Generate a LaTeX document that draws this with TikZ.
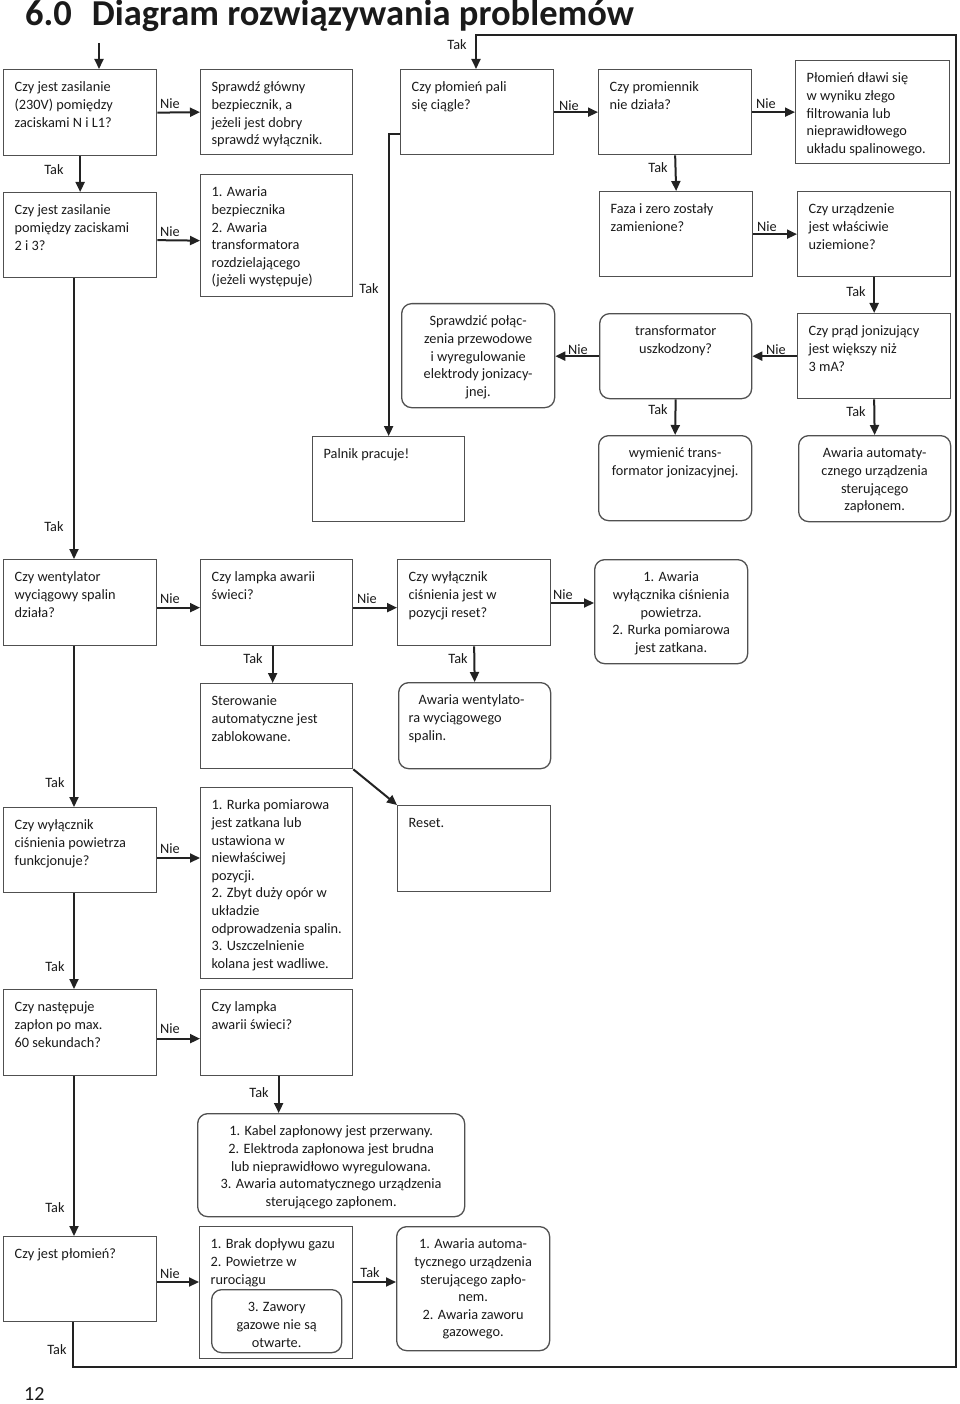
\documentclass[tikz,border=0pt]{standalone}
\usepackage{fontspec}
\setmainfont{Carlito}
\usetikzlibrary{arrows.meta,calc}
\definecolor{lc}{HTML}{222222}
\definecolor{bc}{HTML}{505050}
\definecolor{tc}{HTML}{1A1A1A}
\newcommand{\bodyf}{\fontsize{14.3}{17.6}\selectfont}
\newcommand{\titlef}{\fontsize{36.5}{40}\selectfont\bfseries}
\newcommand{\Lt}[3]{\parbox[t][#2pt][t]{#1pt}{\begin{tabular}[t]{@{}l@{}}#3\end{tabular}}}
\newcommand{\Ct}[3]{\parbox[t][#2pt][t]{#1pt}{\centering\begin{tabular}[t]{@{}c@{}}#3\end{tabular}}}
\tikzset{
  bx/.style={draw=bc, line width=1.3pt, anchor=north west, inner xsep=11pt, inner ysep=10pt, font=\bodyf, text=tc},
  rb/.style={bx, rounded corners=10pt},
  arr/.style={draw=lc, line width=2pt, line join=miter, -{Triangle[length=10pt,width=9pt]}},
  lbl/.style={font=\bodyf, text=tc, inner sep=0pt},
}
\begin{document}
\begin{tikzpicture}[x=1pt,y=-1pt]
\useasboundingbox (0,0) rectangle (960,1404);
% title and page number
\node[anchor=base west, font=\titlef, text=tc, inner sep=0pt] (title) at (25,26) {6.0\hspace{20pt}Diagram rozwiązywania problemów};
\node[anchor=base west, font=\fontsize{20}{24}\selectfont, text=tc, inner sep=0pt] (pg) at (24,1400) {12};

% row 1
\node[bx] (A) at (3,69) {\Lt{131}{66}{Czy jest zasilanie\\(230V) pomiędzy\\zaciskami N i L1?}};
\node[bx] (B) at (200,69) {\Lt{130}{65}{Sprawdź główny\\bezpiecznik, a\\jeżeli jest dobry\\sprawdź wyłącznik.}};
\node[bx] (E) at (400,69) {\Lt{131}{65}{Czy płomień pali\\się ciągle?}};
\node[bx] (P) at (598,69) {\Lt{131}{65}{Czy promiennik\\nie działa?}};
\node[bx] (F) at (795,60) {\Lt{132}{83}{Płomień dławi się\\w wyniku złego\\filtrowania lub\\nieprawidłowego\\układu spalinowego.}};
% row 2
\node[bx] (C) at (3,192) {\Lt{131}{65}{Czy jest zasilanie\\pomiędzy zaciskami\\2 i 3?}};
\node[bx] (D) at (200,174) {\Lt{130}{102}{1. Awaria\\bezpiecznika\\2. Awaria\\transformatora\\rozdzielającego\\(jeżeli występuje)}};
\node[bx] (G) at (599,191) {\Lt{131}{65}{Faza i zero zostały\\zamienione?}};
\node[bx] (H) at (797,191) {\Lt{131}{65}{Czy urządzenie\\jest właściwie\\uziemione?}};
% row 3
\node[rb] (I) at (401,303) {\Ct{131}{84}{Sprawdzić połąc-\\zenia przewodowe\\i wyregulowanie\\elektrody jonizacy-\\jnej.}};
\node[rb] (J) at (599,313) {\Ct{130}{65}{transformator\\uszkodzony?}};
\node[bx] (K) at (797,313) {\Lt{131}{65}{Czy prąd jonizujący\\jest większy niż\\3 mA?}};
% row 4
\node[bx] (L) at (312,436) {\Lt{130}{65}{Palnik pracuje!}};
\node[rb] (M) at (598,435) {\Ct{131}{65}{wymienić trans-\\formator jonizacyjnej.}};
\node[rb] (N) at (798,435) {\Ct{130}{66}{Awaria automaty-\\cznego urządzenia\\sterującego\\zapłonem.}};
% row 5
\node[bx] (O) at (3,559) {\Lt{131}{66}{Czy wentylator\\wyciągowy spalin\\działa?}};
\node[bx] (Q) at (200,559) {\Lt{130}{66}{Czy lampka awarii\\świeci?}};
\node[bx] (R) at (397,559) {\Lt{131}{66}{Czy wyłącznik\\ciśnienia jest w\\pozycji reset?}};
\node[rb] (S) at (594,559) {\Ct{131}{84}{1. Awaria\\wyłącznika ciśnienia\\powietrza.\\2. Rurka pomiarowa\\jest zatkana.}};
% row 6
\node[bx] (T) at (200,683) {\Lt{130}{65}{Sterowanie\\automatyczne jest\\zablokowane.}};
\node[rb, inner xsep=10pt] (U) at (398,682) {\Lt{132}{66}{\hspace{10pt}Awaria wentylato-\\ra wyciągowego\\spalin.}};
% row 7
\node[bx] (V) at (3,807) {\Lt{131}{65}{Czy wyłącznik\\ciśnienia powietrza\\funkcjonuje?}};
\node[bx] (W) at (200,787) {\Lt{130}{171}{1. Rurka pomiarowa\\jest zatkana lub\\ustawiona w\\niewłaściwej\\pozycji.\\2. Zbyt duży opór w\\układzie\\odprowadzenia spalin.\\3. Uszczelnienie\\kolana jest wadliwe.}};
\node[bx] (X) at (397,805) {\Lt{131}{66}{Reset.}};
% row 8
\node[bx] (Y) at (3,989) {\Lt{131}{66}{Czy następuje\\zapłon po max.\\60 sekundach?}};
\node[bx] (Y2) at (200,989) {\Lt{130}{66}{Czy lampka\\awarii świeci?}};
% row 9
\node[rb] (Kb) at (197,1113) {\Ct{245}{83}{1. Kabel zapłonowy jest przerwany.\\2. Elektroda zapłonowa jest brudna\\lub nieprawidłowo wyregulowana.\\3. Awaria automatycznego urządzenia\\sterującego zapłonem.}};
% row 10
\node[bx] (Z) at (3,1236) {\Lt{131}{65}{Czy jest płomień?}};
\node[bx] (Br) at (199,1226) {\Lt{131}{112}{1. Brak dopływu gazu\\2. Powietrze w\\rurociągu}};
\node[rb] (Zi) at (211,1289) {\Ct{108}{43}{3. Zawory\\gazowe nie są\\otwarte.}};
\node[rb] (AA) at (396,1226) {\Ct{131}{104}{1. Awaria automa-\\tycznego urządzenia\\sterującego zapło-\\nem.\\2. Awaria zaworu\\gazowego.}};

% helper coordinates
\coordinate (xS) at (99,43);
\coordinate (xL) at (74,0);
\coordinate (c1) at (73,1367);
\coordinate (c2) at (956,1367);
\coordinate (c3) at (956,35);
\coordinate (c4) at (476,35);
\coordinate (yV) at (0,858);
\coordinate (yZ) at (0,1282);
\coordinate (yR) at (0,603);

% connectors
\draw[arr] (xS) -- (xS |- A.north);
\draw[arr] (A.east) -- (B.west);
\draw[arr] (A.south) -- (C.north);
\draw[arr] ([yshift=-5pt]C.east) -- ([yshift=-5pt]D.west);
\draw[arr] (C.south -| xL) -- (O.north -| xL);
\draw[arr] ([yshift=-21.5pt]E.west) -| (L.north);
\draw[arr] (Z.south -| c1) -- (c1) -- (c2) -- (c3) -- (c4) -- (E.north -| c4);
\draw[arr] (E.east) -- (P.west);
\draw[arr] (P.east) -- (F.west);
\draw[arr] (P.south) -- (G.north);
\draw[arr] (G.east) -- (H.west);
\draw[arr] (H.south) -- (K.north);
\draw[arr] (K.west) -- (J.east);
\draw[arr] (J.west) -- (I.east |- J.west);
\draw[arr] (J.south) -- (M.north);
\draw[arr] (K.south) -- (N.north);
\draw[arr] ([yshift=-5pt]O.east) -- ([yshift=-5pt]Q.west);
\draw[arr] ([yshift=-5pt]Q.east) -- ([yshift=-5pt]R.west);
\draw[arr] ([xshift=-4pt]Q.south) -- ([xshift=-4pt]T.north);
\draw[arr] (R.east |- yR) -- (S.west |- yR);
\draw[arr] (R.south) -- (U.north);
\draw[arr] (T.south east) -- (X.north west);
\draw[arr] (O.south -| xL) -- (V.north -| xL);
\draw[arr] (V.east |- yV) -- (W.west |- yV);
\draw[arr] (V.south -| xL) -- (Y.north -| xL);
\draw[arr] ([yshift=-6pt]Y.east) -- ([yshift=-6pt]Y2.west);
\draw[arr] ([xshift=2pt]Y2.south) -- ([xshift=2pt]Y2.south |- Kb.north);
\draw[arr] (Y.south -| xL) -- (Z.north -| xL);
\draw[arr] (Z.east |- yZ) -- (Br.west |- yZ);
\draw[arr] (Br.east |- yZ) -- (AA.west |- yZ);

% labels
\node[lbl] (n1) at (170,104) {Nie};
\node[lbl] (t1) at (54,170) {Tak};
\node[lbl] (n2) at (170,232) {Nie};
\node[lbl] (t2) at (54,527) {Tak};
\node[lbl] (t3) at (369,289) {Tak};
\node[lbl] (t4) at (457,45) {Tak};
\node[lbl] (n3) at (569,106) {Nie};
\node[lbl] (n4) at (766,104) {Nie};
\node[lbl] (t5) at (658,168) {Tak};
\node[lbl] (n5) at (767,227) {Nie};
\node[lbl] (t6) at (856,292) {Tak};
\node[lbl] (n6) at (776,350) {Nie};
\node[lbl] (n7) at (578,350) {Nie};
\node[lbl] (t7) at (658,410) {Tak};
\node[lbl] (t8) at (856,412) {Tak};
\node[lbl] (n8) at (170,599) {Nie};
\node[lbl] (n9) at (367,599) {Nie};
\node[lbl] (t9) at (253,659) {Tak};
\node[lbl] (n10) at (563,595) {Nie};
\node[lbl] (t10) at (458,659) {Tak};
\node[lbl] (t11) at (55,783) {Tak};
\node[lbl] (n11) at (170,849) {Nie};
\node[lbl] (t12) at (55,967) {Tak};
\node[lbl] (n12) at (170,1029) {Nie};
\node[lbl] (t13) at (259,1093) {Tak};
\node[lbl] (t14) at (55,1208) {Tak};
\node[lbl] (n13) at (170,1274) {Nie};
\node[lbl] (t15) at (370,1273) {Tak};
\node[lbl] (t16) at (57,1350) {Tak};
\end{tikzpicture}
\end{document}
